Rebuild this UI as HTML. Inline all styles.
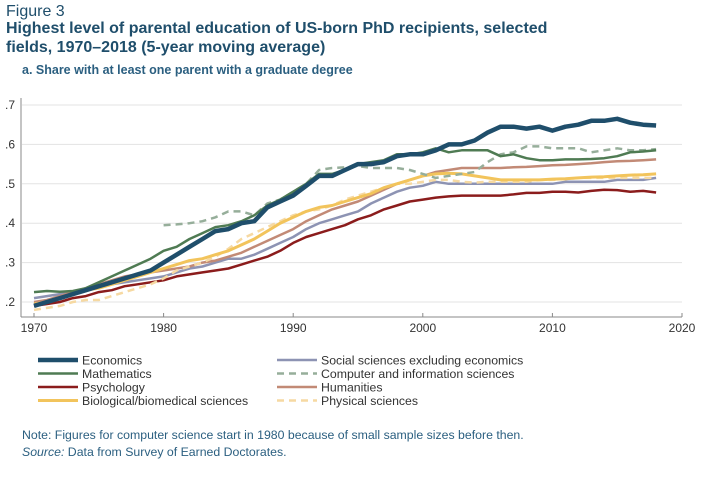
<!DOCTYPE html>
<html><head><meta charset="utf-8"><style>
body{margin:0;background:#fff;width:712px;height:493px;overflow:hidden;font-family:"Liberation Sans",sans-serif}
.t{position:absolute;left:6px;color:#1f4e6b;white-space:nowrap}
</style></head><body>
<div class="t" style="top:3px;font-size:16px">Figure 3</div>
<div class="t" style="top:19px;font-size:16px;font-weight:bold;line-height:19px">Highest level of parental education of US-born PhD recipients, selected<br>fields, 1970–2018 (5-year moving average)</div>
<div class="t" style="top:63px;left:22px;font-size:12.5px;font-weight:bold;color:#2b5f80">a. Share with at least one parent with a graduate degree</div>
<svg id="c" width="712" height="493" style="position:absolute;left:0;top:0"></svg>
<div class="t" style="top:428px;left:22px;font-size:12.3px;color:#2b5f80">Note: Figures for computer science start in 1980 because of small sample sizes before then.</div>
<div class="t" style="top:445px;left:22px;font-size:12.3px;color:#2b5f80"><i>Source:</i> Data from Survey of Earned Doctorates.</div>
<script>
const years=[];for(let y=1970;y<=2018;y++)years.push(y);
const csYears=years.filter(y=>y>=1980);
const yTicks=[0.2,0.3,0.4,0.5,0.6,0.7];
const yTickLabels=[".2",".3",".4",".5",".6",".7"];
const xTicks=[1970,1980,1990,2000,2010,2020];
const economics=[.19,.20,.21,.22,.23,.24,.25,.26,.27,.28,.30,.32,.34,.36,.38,.385,.40,.405,.44,.455,.47,.495,.52,.52,.535,.55,.55,.555,.57,.575,.575,.585,.60,.60,.61,.63,.645,.645,.64,.645,.635,.645,.65,.66,.66,.665,.655,.65,.648];
const mathematics=[.225,.228,.226,.228,.235,.25,.265,.28,.295,.31,.33,.34,.36,.375,.39,.395,.405,.42,.445,.46,.48,.50,.525,.525,.535,.55,.555,.56,.575,.575,.58,.59,.58,.585,.585,.585,.57,.575,.565,.56,.56,.562,.562,.563,.565,.57,.58,.582,.585];
const compsci=[.395,.397,.40,.405,.415,.43,.43,.42,.45,.46,.48,.50,.535,.54,.542,.545,.54,.54,.54,.535,.525,.515,.52,.525,.53,.555,.575,.58,.595,.595,.59,.59,.59,.58,.585,.59,.585,.585,.588];
const socsci=[.21,.215,.22,.225,.23,.24,.245,.25,.255,.26,.265,.275,.285,.29,.30,.31,.31,.32,.335,.35,.365,.385,.40,.41,.42,.43,.45,.465,.48,.49,.495,.505,.50,.50,.50,.50,.50,.50,.50,.50,.50,.505,.505,.505,.505,.51,.51,.51,.515];
const psychology=[.19,.195,.20,.21,.215,.225,.23,.24,.245,.25,.255,.265,.27,.275,.28,.285,.295,.305,.315,.33,.35,.365,.375,.385,.395,.41,.42,.435,.445,.455,.46,.465,.468,.47,.47,.47,.47,.473,.477,.477,.48,.48,.478,.482,.485,.484,.48,.482,.478];
const humanities=[.20,.205,.215,.225,.235,.245,.255,.265,.27,.275,.28,.285,.29,.30,.305,.315,.325,.34,.355,.37,.385,.405,.42,.435,.445,.455,.47,.485,.50,.51,.52,.53,.535,.54,.54,.54,.54,.542,.543,.545,.547,.548,.55,.552,.555,.557,.558,.56,.562];
const biological=[.195,.20,.21,.22,.23,.235,.245,.255,.265,.275,.285,.295,.305,.31,.32,.33,.345,.36,.38,.40,.415,.43,.44,.445,.455,.465,.475,.49,.50,.51,.52,.525,.527,.525,.52,.515,.51,.51,.51,.51,.512,.513,.515,.517,.518,.52,.522,.523,.525];
const physical=[.18,.185,.19,.20,.205,.205,.215,.225,.235,.245,.26,.28,.29,.30,.315,.335,.36,.375,.39,.405,.42,.43,.435,.445,.46,.47,.48,.49,.50,.50,.505,.51,.51,.505,.503,.505,.505,.505,.505,.51,.51,.512,.515,.515,.515,.515,.515,.515,.515];
const svg=document.getElementById('c');const NS='http://www.w3.org/2000/svg';
const X=v=>34+(v-1970)*(682-34)/50;
const Y=v=>302-(v-0.2)*(302-105)/0.5;
function mk(t,a,p){const e=document.createElementNS(NS,t);for(const k in a)e.setAttribute(k,a[k]);(p||svg).appendChild(e);return e;}
yTicks.forEach((v,i)=>{
 const g=mk('line',{x1:22,x2:682,y1:Y(v),y2:Y(v),stroke:'#e3e3e3','stroke-width':1});
 
 
 const t=mk('text',{x:5,y:Y(v)+4,'font-size':12,fill:'#333','font-family':'Liberation Sans'});t.textContent=yTickLabels[i];
 
 
});
const ax=mk('line',{x1:21,x2:21,y1:98,y2:317,stroke:'#888','stroke-width':1});


const xa=mk('line',{x1:21,x2:682,y1:317,y2:317,stroke:'#888','stroke-width':1});


xTicks.forEach(v=>{
 const tk=mk('line',{x1:X(v),x2:X(v),y1:313,y2:317,stroke:'#888'});
 
 
 const t=mk('text',{x:X(v),y:332,'font-size':12,fill:'#333','text-anchor':'middle','font-family':'Liberation Sans'});t.textContent=v;
 
 
});
const series=[
 {n:'Social sciences excluding economics',xs:years,d:socsci,c:'#8d93b3',w:2.5,dash:'',col:1,row:0},
 {n:'Psychology',xs:years,d:psychology,c:'#8b1c1c',w:2.5,dash:'',col:0,row:2},
 {n:'Humanities',xs:years,d:humanities,c:'#c28a76',w:2.5,dash:'',col:1,row:2},
 {n:'Physical sciences',xs:years,d:physical,c:'#f6d9a2',w:2.5,dash:'7,5',col:1,row:3},
 {n:'Biological/biomedical sciences',xs:years,d:biological,c:'#f2c45c',w:3,dash:'',col:0,row:3},
 {n:'Computer and information sciences',xs:csYears,d:compsci,c:'#96ae9a',w:2.5,dash:'7,5',col:1,row:1},
 {n:'Mathematics',xs:years,d:mathematics,c:'#4f7b53',w:2.5,dash:'',col:0,row:1},
 {n:'Economics',xs:years,d:economics,c:'#1f4e6b',w:4.5,dash:'',col:0,row:0}
];
series.forEach(s=>{
 const pts=s.d.map((v,i)=>X(s.xs[i]).toFixed(1)+','+Y(v).toFixed(1)).join(' ');
 const p=mk('polyline',{points:pts,fill:'none',stroke:s.c,'stroke-width':s.w,'stroke-dasharray':s.dash,'stroke-linejoin':'round'});
 
 
 const lx=s.col?277:38, ly=360+s.row*13.5;
 const l=mk('line',{x1:lx,x2:lx+40,y1:ly,y2:ly,stroke:s.c,'stroke-width':s.w,'stroke-dasharray':s.dash});
 
 
 const t=mk('text',{x:lx+44,y:ly+4.5,'font-size':12.3,fill:'#333','font-family':'Liberation Sans'});t.textContent=s.n;
 
 
});
</script>
</body></html>
